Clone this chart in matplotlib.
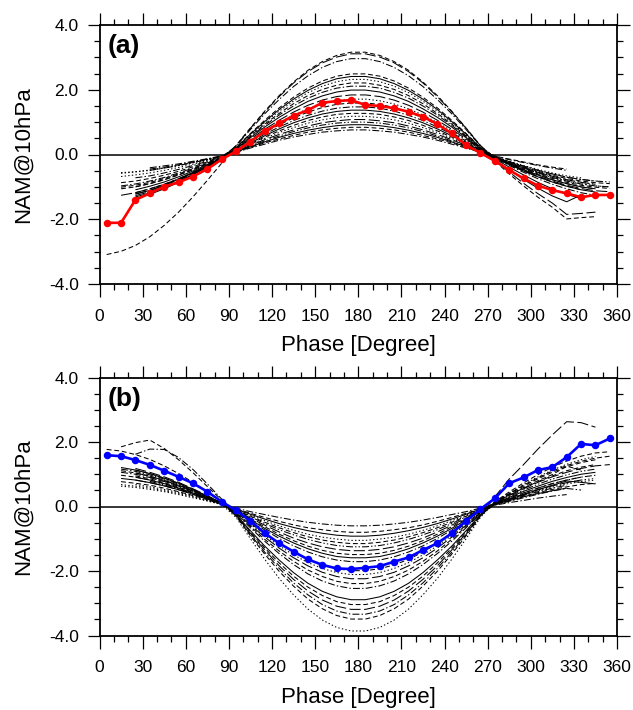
import numpy as np
import matplotlib
matplotlib.use("Agg")
import matplotlib.pyplot as plt

plt.rcParams['font.family'] = ['Liberation Sans', 'DejaVu Sans']
plt.rcParams['lines.scale_dashes'] = False

nan = float('nan')

# Phase bins (degrees), centred every 10 degrees
phase = [5, 15, 25, 35, 45, 55, 65, 75, 85, 95, 105, 115, 125, 135, 145, 155, 165, 175,
         185, 195, 205, 215, 225, 235, 245, 255, 265, 275, 285, 295, 305, 315, 325, 335, 345, 355]

xticks = [0, 30, 60, 90, 120, 150, 180, 210, 240, 270, 300, 330, 360]
yticks = [-4.0, -2.0, 0.0, 2.0, 4.0]

# Observed composites
obs_a = [-2.11, -2.11, -1.40, -1.20, -0.99, -0.86, -0.68, -0.45, -0.15, 0.10, 0.40, 0.72,
         0.96, 1.20, 1.37, 1.60, 1.65, 1.68, 1.53, 1.50, 1.43, 1.32, 1.17, 0.94, 0.65, 0.29,
         0.05, -0.20, -0.48, -0.74, -0.96, -1.10, -1.20, -1.32, -1.25, -1.25]
obs_b = [1.59, 1.56, 1.44, 1.29, 1.11, 0.92, 0.72, 0.46, 0.15, -0.12, -0.45, -0.83, -1.14,
         -1.40, -1.64, -1.81, -1.92, -1.94, -1.90, -1.85, -1.71, -1.58, -1.35, -1.14, -0.83,
         -0.45, -0.08, 0.25, 0.72, 0.90, 1.13, 1.22, 1.53, 1.94, 1.90, 2.11]

# Model composites, panel (a)
a01 = [-3.09, -2.99, -2.81, -2.54, -2.19, -1.78, -1.31, -0.80, -0.27,
       0.28, 0.82, 1.34, 1.82, 2.24, 2.60, 2.87, 3.06, 3.16, 3.16, 3.06, 2.87, 2.60, 2.24, 1.82, 1.34, 0.82, 0.28,
       -0.20, -0.60, -0.97, -1.32, -1.63, -1.99, -1.95, -1.92, nan]
a02 = [nan, nan, -1.22, -1.11, -0.95, -0.77, -0.57, -0.35, -0.12,
       0.27, 0.81, 1.32, 1.79, 2.21, 2.56, 2.83, 3.01, 3.11, 3.11, 3.01, 2.83, 2.56, 2.21, 1.79, 1.32, 0.81, 0.27,
       -0.10, -0.30, -0.49, -0.67, -0.82, -0.95, -1.05, -1.12, -1.15]
a03 = [nan, -0.97, -0.91, -0.82, -0.71, -0.57, -0.42, -0.26, -0.09,
       0.26, 0.77, 1.26, 1.70, 2.10, 2.43, 2.69, 2.87, 2.96, 2.96, 2.87, 2.69, 2.43, 2.10, 1.70, 1.26, 0.77, 0.26,
       -0.09, -0.26, -0.42, -0.57, -0.71, -0.82, -0.91, -0.97, -1.00]
a04 = [nan, nan, -1.18, -1.06, -0.92, -0.75, -0.55, -0.34, -0.11,
       0.22, 0.65, 1.06, 1.44, 1.77, 2.05, 2.27, 2.42, 2.49, 2.49, 2.42, 2.27, 2.05, 1.77, 1.44, 1.06, 0.65, 0.22,
       -0.10, -0.28, -0.47, -0.63, -0.78, -0.90, -1.00, -1.06, nan]
a05 = [nan, nan, -1.31, -1.19, -1.03, -0.83, -0.61, -0.38, -0.13,
       0.21, 0.63, 1.02, 1.39, 1.71, 1.98, 2.19, 2.34, 2.41, 2.41, 2.34, 2.19, 1.98, 1.71, 1.39, 1.02, 0.63, 0.21,
       -0.16, -0.47, -0.77, -1.04, -1.28, -1.46, -1.25, nan, nan]
a06 = [nan, -0.58, -0.54, -0.49, -0.42, -0.34, -0.25, -0.16, -0.05,
       0.20, 0.60, 0.99, 1.34, 1.65, 1.91, 2.11, 2.25, 2.32, 2.32, 2.25, 2.11, 1.91, 1.65, 1.34, 0.99, 0.60, 0.20,
       -0.08, -0.25, -0.40, -0.55, -0.67, -0.78, -0.86, -0.92, nan]
a07 = [nan, -1.01, -0.95, -0.86, -0.74, -0.60, -0.44, -0.27, -0.09,
       0.19, 0.57, 0.94, 1.27, 1.57, 1.82, 2.01, 2.14, 2.21, 2.21, 2.14, 2.01, 1.82, 1.57, 1.27, 0.94, 0.57, 0.19,
       -0.09, -0.27, -0.44, -0.60, -0.74, -0.86, -0.95, -1.01, -1.05]
a08 = [nan, nan, nan, -0.41, -0.35, -0.29, -0.21, -0.13, -0.04,
       0.18, 0.55, 0.90, 1.22, 1.50, 1.74, 1.92, 2.05, 2.11, 2.11, 2.05, 1.92, 1.74, 1.50, 1.22, 0.90, 0.55, 0.18,
       -0.05, -0.16, -0.25, -0.34, -0.42, -0.49, nan, nan, nan]
a09 = [nan, nan, -1.36, -1.23, -1.06, -0.86, -0.63, -0.39, -0.13,
       0.17, 0.52, 0.85, 1.15, 1.41, 1.64, 1.81, 1.93, 1.99, 1.99, 1.93, 1.81, 1.64, 1.41, 1.15, 0.85, 0.52, 0.17,
       -0.10, -0.31, -0.51, -0.69, -0.85, -0.98, -1.09, -1.16, nan]
a10 = [nan, -1.26, -1.18, -1.06, -0.92, -0.75, -0.55, -0.34, -0.11,
       0.16, 0.48, 0.78, 1.06, 1.31, 1.52, 1.68, 1.79, 1.84, 1.84, 1.79, 1.68, 1.52, 1.31, 1.06, 0.78, 0.48, 0.16,
       -0.18, -0.54, -0.89, -1.21, -1.50, -1.85, -1.82, -1.78, nan]
a11 = [nan, -0.68, -0.63, -0.57, -0.49, -0.40, -0.30, -0.18, -0.06,
       0.15, 0.45, 0.73, 0.99, 1.22, 1.41, 1.56, 1.66, 1.71, 1.71, 1.66, 1.56, 1.41, 1.22, 0.99, 0.73, 0.45, 0.15,
       -0.07, -0.21, -0.34, -0.46, -0.57, -0.66, -0.72, nan, nan]
a12 = [nan, nan, -1.00, -0.90, -0.78, -0.63, -0.47, -0.28, -0.10,
       0.14, 0.41, 0.68, 0.92, 1.13, 1.31, 1.45, 1.55, 1.59, 1.59, 1.55, 1.45, 1.31, 1.13, 0.92, 0.68, 0.41, 0.14,
       -0.08, -0.23, -0.38, -0.52, -0.64, -0.74, -0.82, -0.87, -0.90]
a13 = [nan, nan, nan, -0.45, -0.39, -0.32, -0.23, -0.14, -0.05,
       0.13, 0.38, 0.63, 0.85, 1.05, 1.21, 1.34, 1.43, 1.47, 1.47, 1.43, 1.34, 1.21, 1.05, 0.85, 0.63, 0.38, 0.13,
       -0.11, -0.34, -0.55, -0.75, -0.92, -1.06, -1.18, -1.26, nan]
a14 = [nan, nan, -1.22, -1.11, -0.95, -0.77, -0.57, -0.35, -0.12,
       0.12, 0.36, 0.58, 0.79, 0.98, 1.13, 1.25, 1.33, 1.37, 1.37, 1.33, 1.25, 1.13, 0.98, 0.79, 0.58, 0.36, 0.12,
       -0.13, -0.39, -0.63, -0.86, -1.06, -1.23, -1.36, nan, nan]
a15 = [nan, -0.87, -0.82, -0.74, -0.64, -0.52, -0.38, -0.23, -0.08,
       0.11, 0.33, 0.54, 0.73, 0.90, 1.05, 1.16, 1.24, 1.27, 1.27, 1.24, 1.16, 1.05, 0.90, 0.73, 0.54, 0.33, 0.11,
       -0.05, -0.14, -0.23, -0.32, -0.39, -0.45, nan, nan, nan]
a16 = [nan, -0.56, -0.53, -0.48, -0.41, -0.33, -0.25, -0.15, -0.05,
       0.10, 0.31, 0.50, 0.68, 0.83, 0.97, 1.07, 1.14, 1.18, 1.18, 1.14, 1.07, 0.97, 0.83, 0.68, 0.50, 0.31, 0.10,
       -0.09, -0.26, -0.42, -0.57, -0.71, -0.82, -0.91, -0.97, -1.00]
a17 = [nan, nan, -1.27, -1.15, -0.99, -0.80, -0.59, -0.36, -0.12,
       0.09, 0.28, 0.46, 0.62, 0.76, 0.88, 0.98, 1.04, 1.08, 1.08, 1.04, 0.98, 0.88, 0.76, 0.62, 0.46, 0.28, 0.09,
       -0.08, -0.25, -0.40, -0.55, -0.67, -0.78, -0.86, -0.92, nan]
a18 = [nan, nan, nan, -0.49, -0.42, -0.34, -0.25, -0.16, -0.05,
       0.09, 0.26, 0.42, 0.57, 0.71, 0.82, 0.91, 0.97, 1.00, 1.00, 0.97, 0.91, 0.82, 0.71, 0.57, 0.42, 0.26, 0.09,
       -0.07, -0.22, -0.36, -0.49, -0.60, -0.70, -0.77, -0.82, nan]
a19 = [nan, nan, -1.09, -0.98, -0.85, -0.69, -0.51, -0.31, -0.10,
       0.08, 0.24, 0.39, 0.53, 0.65, 0.75, 0.83, 0.89, 0.92, 0.92, 0.89, 0.83, 0.75, 0.65, 0.53, 0.39, 0.24, 0.08,
       -0.10, -0.28, -0.47, -0.63, -0.78, -0.90, -1.00, -1.06, nan]
a20 = [nan, -1.06, -1.00, -0.90, -0.78, -0.63, -0.47, -0.28, -0.10,
       0.07, 0.22, 0.36, 0.48, 0.59, 0.69, 0.76, 0.81, 0.84, 0.84, 0.81, 0.76, 0.69, 0.59, 0.48, 0.36, 0.22, 0.07,
       -0.10, -0.31, -0.51, -0.69, -0.85, -0.98, -1.09, nan, nan]
a21 = [nan, nan, -0.72, -0.66, -0.57, -0.46, -0.34, -0.21, -0.07,
       0.07, 0.20, 0.32, 0.44, 0.54, 0.62, 0.69, 0.73, 0.76, 0.76, 0.73, 0.69, 0.62, 0.54, 0.44, 0.32, 0.20, 0.07,
       -0.07, -0.22, -0.36, -0.49, -0.60, -0.70, -0.77, -0.82, -0.85]

# Model composites, panel (b)
b01 = [nan, 0.63, 0.59, 0.53, 0.46, 0.37, 0.27, 0.17, 0.06,
       -0.34, -1.00, -1.64, -2.23, -2.74, -3.18, -3.52, -3.75, -3.86, -3.86, -3.75, -3.52, -3.18, -2.74, -2.23, -1.64, -1.00, -0.34,
       0.14, 0.41, 0.68, 0.92, 1.13, 1.31, 1.45, 1.55, nan]
b02 = [1.77, 1.72, 1.61, 1.46, 1.26, 1.02, 0.75, 0.46, 0.15,
       -0.30, -0.91, -1.48, -2.01, -2.47, -2.87, -3.17, -3.38, -3.49, -3.49, -3.38, -3.17, -2.87, -2.47, -2.01, -1.48, -0.91, -0.30,
       0.15, 0.45, 0.73, 0.99, 1.22, 1.41, 1.56, 1.66, 1.70]
b03 = [nan, 1.06, 1.00, 0.90, 0.78, 0.63, 0.47, 0.28, 0.10,
       -0.29, -0.87, -1.42, -1.92, -2.37, -2.74, -3.04, -3.24, -3.34, -3.34, -3.24, -3.04, -2.74, -2.37, -1.92, -1.42, -0.87, -0.29,
       0.09, 0.26, 0.42, 0.57, 0.71, 0.82, 0.91, 0.97, nan]
b04 = [nan, nan, 1.18, 1.06, 0.92, 0.75, 0.55, 0.34, 0.11,
       -0.28, -0.83, -1.35, -1.84, -2.26, -2.62, -2.90, -3.09, -3.19, -3.19, -3.09, -2.90, -2.62, -2.26, -1.84, -1.35, -0.83, -0.28,
       0.30, 0.85, 1.30, 1.78, 2.22, 2.63, 2.60, 2.46, nan]
b05 = [nan, 1.85, 1.98, 2.06, 1.80, 1.45, 1.05, 0.62, 0.20,
       -0.27, -0.79, -1.29, -1.75, -2.16, -2.50, -2.76, -2.95, -3.04, -3.04, -2.95, -2.76, -2.50, -2.16, -1.75, -1.29, -0.79, -0.27,
       0.13, 0.40, 0.66, 0.89, 1.10, 1.27, 1.40, 1.50, 1.56]
b06 = [nan, 1.21, 1.13, 1.02, 0.88, 0.72, 0.53, 0.32, 0.11,
       -0.25, -0.75, -1.23, -1.66, -2.05, -2.38, -2.63, -2.80, -2.89, -2.89, -2.80, -2.63, -2.38, -2.05, -1.66, -1.23, -0.75, -0.25,
       0.07, 0.22, 0.37, 0.52, 0.66, 0.79, 0.75, 0.70, nan]
b07 = [nan, nan, 1.62, 1.78, 1.77, 1.52, 1.15, 0.70, 0.23,
       -0.22, -0.66, -1.08, -1.46, -1.80, -2.09, -2.31, -2.46, -2.54, -2.54, -2.46, -2.31, -2.09, -1.80, -1.46, -1.08, -0.66, -0.22,
       0.05, 0.16, 0.27, 0.38, 0.48, 0.56, 0.51, nan, nan]
b08 = [nan, 0.97, 0.91, 0.82, 0.71, 0.57, 0.42, 0.26, 0.09,
       -0.21, -0.62, -1.02, -1.38, -1.70, -1.97, -2.17, -2.32, -2.39, -2.39, -2.32, -2.17, -1.97, -1.70, -1.38, -1.02, -0.62, -0.21,
       0.12, 0.36, 0.59, 0.80, 0.99, 1.25, 1.13, nan, nan]
b09 = [nan, nan, 0.82, 0.74, 0.64, 0.52, 0.38, 0.23, 0.08,
       -0.20, -0.58, -0.95, -1.29, -1.59, -1.84, -2.04, -2.17, -2.24, -2.24, -2.17, -2.04, -1.84, -1.59, -1.29, -0.95, -0.58, -0.20,
       0.11, 0.34, 0.55, 0.75, 0.92, 1.06, 1.18, 1.26, 1.30]
b10 = [nan, 0.68, 0.63, 0.57, 0.49, 0.40, 0.30, 0.18, 0.06,
       -0.18, -0.55, -0.90, -1.22, -1.50, -1.74, -1.92, -2.05, -2.11, -2.11, -2.05, -1.92, -1.74, -1.50, -1.22, -0.90, -0.55, -0.18,
       0.08, 0.23, 0.38, 0.52, 0.64, 0.74, 0.82, 0.87, nan]
b11 = [nan, nan, 1.13, 1.02, 0.88, 0.72, 0.53, 0.32, 0.11,
       -0.17, -0.52, -0.85, -1.15, -1.41, -1.64, -1.81, -1.93, -1.99, -1.99, -1.93, -1.81, -1.64, -1.41, -1.15, -0.85, -0.52, -0.17,
       0.12, 0.35, 0.57, 0.77, 0.95, 1.11, 1.22, 1.30, nan]
b12 = [nan, 1.16, 1.09, 0.98, 0.85, 0.69, 0.51, 0.31, 0.10,
       -0.15, -0.45, -0.73, -0.99, -1.22, -1.41, -1.56, -1.66, -1.71, -1.71, -1.66, -1.56, -1.41, -1.22, -0.99, -0.73, -0.45, -0.15,
       0.07, 0.21, 0.34, 0.46, 0.57, 0.66, nan, nan, nan]
b13 = [nan, nan, 0.91, 0.82, 0.71, 0.57, 0.42, 0.26, 0.09,
       -0.14, -0.41, -0.68, -0.92, -1.13, -1.31, -1.45, -1.55, -1.59, -1.59, -1.55, -1.45, -1.31, -1.13, -0.92, -0.68, -0.41, -0.14,
       0.10, 0.28, 0.47, 0.63, 0.78, 0.90, 1.00, 1.06, nan]
b14 = [nan, 0.77, 0.72, 0.66, 0.57, 0.46, 0.34, 0.21, 0.07,
       -0.13, -0.39, -0.63, -0.86, -1.06, -1.23, -1.36, -1.45, -1.49, -1.49, -1.45, -1.36, -1.23, -1.06, -0.86, -0.63, -0.39, -0.13,
       0.13, 0.39, 0.63, 0.86, 1.06, 1.23, 1.36, 1.45, nan]
b15 = [nan, nan, 1.04, 0.94, 0.81, 0.66, 0.49, 0.30, 0.10,
       -0.12, -0.36, -0.58, -0.79, -0.98, -1.13, -1.25, -1.33, -1.37, -1.37, -1.33, -1.25, -1.13, -0.98, -0.79, -0.58, -0.36, -0.12,
       0.08, 0.23, 0.38, 0.52, 0.64, 0.74, 0.82, nan, nan]
b16 = [nan, nan, nan, 0.78, 0.67, 0.55, 0.40, 0.25, 0.08,
       -0.11, -0.32, -0.53, -0.72, -0.88, -1.02, -1.13, -1.21, -1.25, -1.25, -1.21, -1.13, -1.02, -0.88, -0.72, -0.53, -0.32, -0.11,
       0.10, 0.31, 0.51, 0.69, 0.85, 0.98, 1.09, 1.16, nan]
b17 = [nan, 1.11, 1.04, 0.94, 0.81, 0.66, 0.49, 0.30, 0.10,
       -0.10, -0.30, -0.49, -0.66, -0.81, -0.94, -1.04, -1.11, -1.15, -1.15, -1.11, -1.04, -0.94, -0.81, -0.66, -0.49, -0.30, -0.10,
       0.09, 0.26, 0.42, 0.57, 0.71, 0.82, 0.91, nan, nan]
b18 = [nan, nan, 0.68, 0.61, 0.53, 0.43, 0.32, 0.19, 0.07,
       -0.09, -0.27, -0.44, -0.60, -0.74, -0.86, -0.95, -1.01, -1.05, -1.05, -1.01, -0.95, -0.86, -0.74, -0.60, -0.44, -0.27, -0.09,
       0.07, 0.22, 0.36, 0.49, 0.60, 0.70, 0.77, 0.82, nan]
b19 = [nan, 0.87, 0.82, 0.74, 0.64, 0.52, 0.38, 0.23, 0.08,
       -0.08, -0.24, -0.39, -0.53, -0.65, -0.75, -0.83, -0.89, -0.92, -0.92, -0.89, -0.83, -0.75, -0.65, -0.53, -0.39, -0.24, -0.08,
       0.06, 0.18, 0.30, 0.40, 0.49, 0.57, nan, nan, nan]
b20 = [nan, nan, 0.95, 0.86, 0.74, 0.60, 0.44, 0.27, 0.09,
       -0.07, -0.21, -0.34, -0.46, -0.57, -0.66, -0.72, -0.77, -0.80, -0.80, -0.77, -0.72, -0.66, -0.57, -0.46, -0.34, -0.21, -0.07,
       0.07, 0.19, 0.32, 0.43, 0.53, 0.61, 0.68, 0.72, nan]
b21 = [nan, nan, nan, 0.90, 0.78, 0.63, 0.47, 0.28, 0.10,
       -0.05, -0.16, -0.25, -0.34, -0.42, -0.49, -0.54, -0.58, -0.60, -0.60, -0.58, -0.54, -0.49, -0.42, -0.34, -0.25, -0.16, -0.05,
       0.04, 0.12, 0.19, 0.26, 0.32, 0.37, nan, nan, nan]

# Dash patterns (points)
SOLID = (0, ())
DASH = (0, (3.5, 2.0))
DOT = (0, (1.0, 1.6))
DASHDOT = (0, (5.0, 1.6, 1.0, 1.6))
LONGDASH = (0, (8.0, 2.5))
DASHDOTDOT = (0, (5.0, 1.5, 1.0, 1.5, 1.0, 1.5))

models_a = [(a01, DASH), (a02, LONGDASH), (a03, DASHDOT), (a04, DASH), (a05, SOLID),
            (a06, DOT), (a07, DASH), (a08, DASHDOT), (a09, SOLID), (a10, LONGDASH),
            (a11, DOT), (a12, DASH), (a13, DASHDOT), (a14, SOLID), (a15, DASH),
            (a16, DOT), (a17, LONGDASH), (a18, DASHDOTDOT), (a19, SOLID), (a20, DASH),
            (a21, DASHDOT)]
models_b = [(b01, DOT), (b02, DASH), (b03, DASHDOT), (b04, LONGDASH), (b05, DASH),
            (b06, SOLID), (b07, DASHDOT), (b08, DASH), (b09, LONGDASH), (b10, DOT),
            (b11, DASH), (b12, DASHDOT), (b13, SOLID), (b14, DASH), (b15, LONGDASH),
            (b16, DASHDOTDOT), (b17, DASH), (b18, DOT), (b19, SOLID), (b20, DASH),
            (b21, DASHDOT)]

fig = plt.figure(figsize=(6.33, 7.10), dpi=100)
W, H = 633.0, 710.0
ax_a = fig.add_axes([99.5 / W, 1 - 284.0 / H, (617.0 - 99.5) / W, (284.0 - 25.0) / H])
ax_b = fig.add_axes([99.5 / W, 1 - 635.5 / H, (617.0 - 99.5) / W, (635.5 - 377.5) / H])


def draw_panel(ax, models, obs, color, tag):
    for vals, ls in models:
        ax.plot(phase, vals, color='black', lw=0.75, linestyle=ls, zorder=2)
    ax.axhline(0.0, color='black', lw=1.1, zorder=3)
    ax.plot(phase, obs, color=color, lw=1.9, marker='o', markersize=5.4,
            markeredgewidth=0, zorder=4)
    ax.set_xlim(0, 360)
    ax.set_ylim(-4.0, 4.0)
    ax.set_xticks(xticks)
    ax.set_xticklabels([str(t) for t in xticks])
    ax.set_xticks(np.arange(0, 361, 10), minor=True)
    ax.set_yticks(yticks)
    ax.set_yticklabels([f"{t:.1f}" for t in yticks])
    ax.set_yticks(np.arange(-4.0, 4.01, 0.5), minor=True)
    ax.tick_params(which='both', direction='out', top=True, right=True,
                   labelsize=12.5, width=0.9)
    ax.tick_params(which='major', length=9)
    ax.tick_params(which='minor', length=4.5)
    ax.tick_params(axis='x', which='major', pad=9)
    ax.tick_params(axis='y', which='major', pad=6)
    for sp in ax.spines.values():
        sp.set_linewidth(1.3)
    ax.set_xlabel('Phase [Degree]', fontsize=16, labelpad=8)
    ax.set_ylabel('NAM@10hPa', fontsize=16, labelpad=11)
    ax.text(0.016, 0.965, tag, transform=ax.transAxes, fontsize=19,
            fontweight='bold', ha='left', va='top')


draw_panel(ax_a, models_a, obs_a, '#ff0000', '(a)')
draw_panel(ax_b, models_b, obs_b, '#0000ff', '(b)')

fig.savefig('out.png', dpi=100)
